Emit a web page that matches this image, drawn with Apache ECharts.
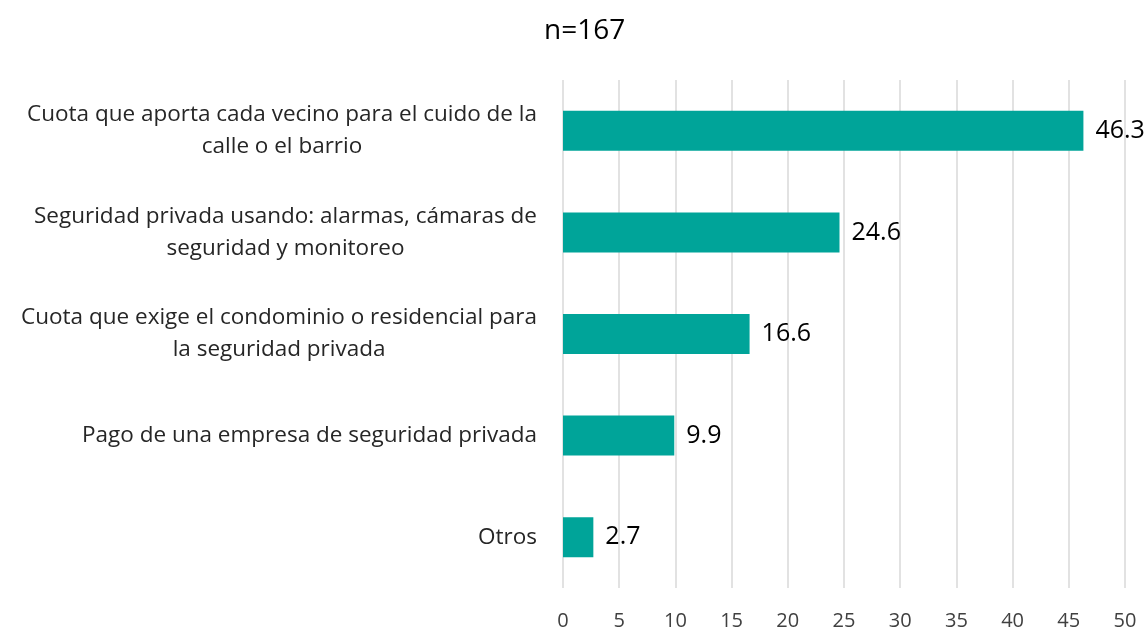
<!DOCTYPE html>
<html>
<head>
<meta charset="utf-8">
<script src="https://cdn.jsdelivr.net/npm/echarts@6/dist/echarts.min.js"></script>
<style>
  html, body { margin: 0; padding: 0; background: #fff; }
  #chart { width: 1144px; height: 632px; }
</style>
</head>
<body>
<div id="chart"></div>
<script>
// datos
var categorias = [
    'Cuota que aporta cada vecino para el cuido de la\ncalle o el barrio',
    'Seguridad privada usando: alarmas, cámaras de\nseguridad y monitoreo',
    'Cuota que exige el condominio o residencial para\nla seguridad privada',
    'Pago de una empresa de seguridad privada',
    'Otros'
];
var valores = [46.3, 24.6, 16.6, 9.9, 2.7];
var titulo = 'n=167';

var fuente = '"Open Sans", sans-serif';
var tamCat = 22.5;

// las etiquetas de varias lineas van centradas entre si y alineadas a la derecha del eje
var ctx = document.createElement('canvas').getContext('2d');
ctx.font = tamCat + 'px ' + fuente;
var rich = {
    t: { fontFamily: fuente, fontSize: tamCat, color: '#262626', lineHeight: 32 }
};
var etiquetas = {};
categorias.forEach(function (cat, i) {
    var lineas = cat.split('\n');
    var anchos = lineas.map(function (l) { return ctx.measureText(l).width; });
    var maxW = Math.max.apply(null, anchos);
    etiquetas[cat] = lineas.map(function (l, j) {
        var name = 'p' + i + '_' + j;
        rich[name] = { width: (maxW - anchos[j]) / 2, fontSize: tamCat, lineHeight: 32 };
        return '{t|' + l + '}{' + name + '| }';
    }).join('\n');
});

var myChart = echarts.init(document.getElementById('chart'));
var option = {
    backgroundColor: '#ffffff',
    title: {
        text: titulo,
        left: 539,
        top: 12,
        textStyle: { fontFamily: fuente, fontSize: 28, fontWeight: 'normal', color: '#000' }
    },
    grid: { left: 563, right: 19, top: 80, bottom: 44 },
    xAxis: {
        type: 'value',
        min: 0,
        max: 50,
        interval: 5,
        axisLine: { show: false },
        axisTick: { show: false },
        splitLine: { lineStyle: { color: '#d9d9d9', width: 1.5 } },
        axisLabel: { fontFamily: fuente, fontSize: 20, color: '#404040', margin: 23 }
    },
    yAxis: {
        type: 'category',
        inverse: true,
        data: categorias,
        axisLine: { show: false },
        axisTick: { show: false },
        axisLabel: {
            margin: 26,
            align: 'right',
            formatter: function (v) { return etiquetas[v]; },
            rich: rich
        }
    },
    series: [{
        type: 'bar',
        data: valores,
        barWidth: 40,
        itemStyle: { color: '#00a499' },
        label: {
            show: true,
            position: 'right',
            distance: 12,
            fontFamily: fuente,
            fontSize: 25,
            color: '#000'
        }
    }]
};
myChart.setOption(option);
</script>
</body>
</html>
